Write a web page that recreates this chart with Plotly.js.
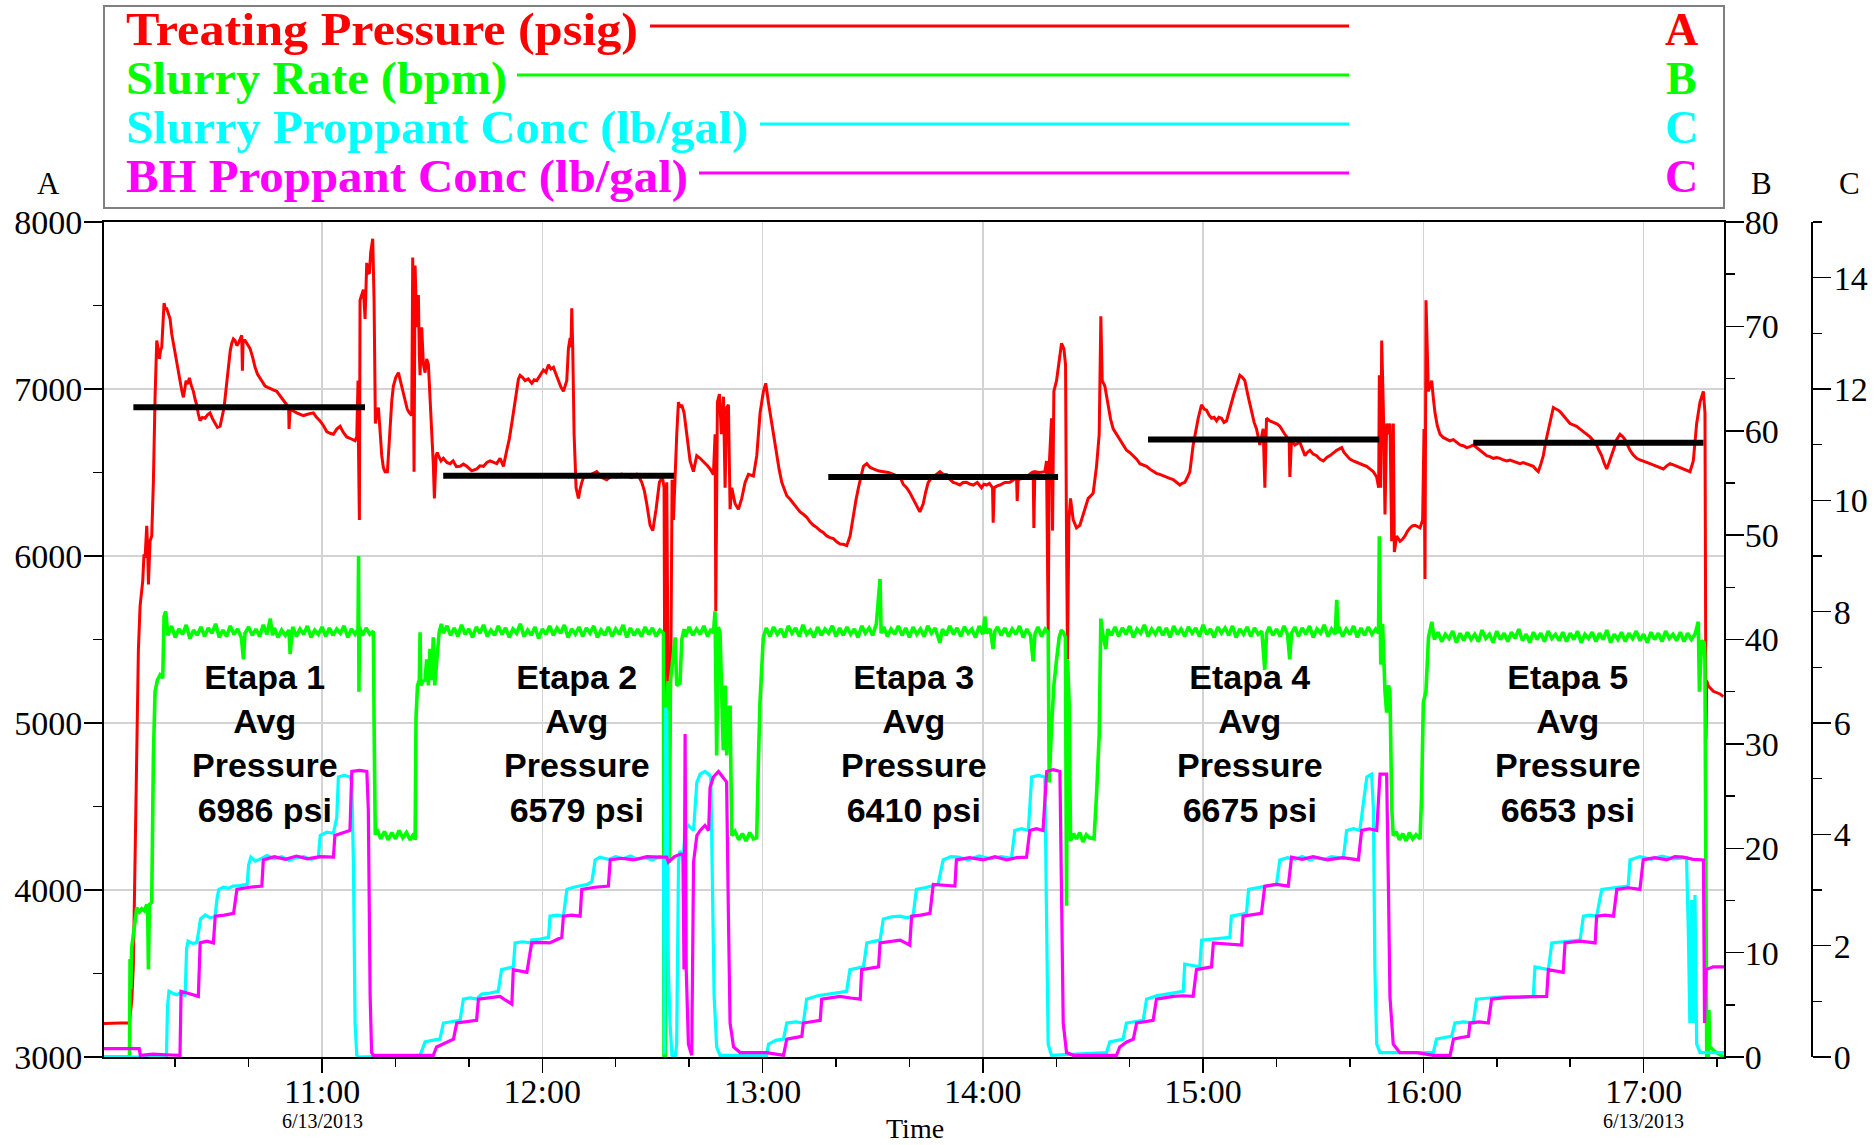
<!DOCTYPE html>
<html><head><meta charset="utf-8">
<script src="https://cdn.plot.ly/plotly-3.0.1.min.js"></script>
<style>html,body{margin:0;padding:0;background:#fff;}#chart{width:1875px;height:1145px;}</style>
</head><body><div id="chart"></div>
<script>
// ---------- DATA (time = minutes after 10:00 on 6/13/2013) ----------
const treatingPressure = [
[0.6,3200],[7.2,3205],[7.5,3195],[8.2,3350],[8.6,3550],[9.06,4160],[9.5,4800],[9.97,5440],[10.43,5700],[10.8,5790],[11.15,5850],[11.5,6010],[11.79,5990],[12.24,6180],[12.5,6050],[12.7,5830],[13.15,6090],[13.6,6120],[14.06,6450],[14.51,6950],[14.97,7290],[15.3,7250],[15.69,7180],[16.0,7230],[16.33,7250],[16.96,7515],[17.3,7480],[17.69,7480],[18.1,7450],[18.6,7420],[19.05,7330],[19.51,7270],[20.0,7200],[20.41,7160],[20.9,7090],[21.32,7050],[21.8,6990],[22.23,6950],[22.6,7010],[22.96,7050],[23.4,7030],[23.86,7066],[24.4,7020],[24.95,6986],[25.4,6940],[25.86,6905],[26.3,6850],[26.77,6810],[27.4,6830],[28.13,6825],[28.8,6845],[29.49,6857],[30.2,6820],[30.86,6793],[31.5,6770],[32.22,6777],[32.8,6830],[33.31,6889],[33.9,7010],[34.49,7146],[35.0,7230],[35.4,7274],[35.85,7300],[36.3,7290],[36.8,7260],[37.21,7274],[37.7,7300],[38.12,7322],[38.3,7110],[38.5,7290],[39.03,7290],[39.7,7270],[40.39,7242],[41.1,7190],[41.75,7130],[42.4,7090],[43.11,7066],[43.8,7040],[44.48,7018],[45.2,7010],[45.84,7002],[46.7,6995],[47.65,6986],[48.6,6960],[49.47,6937],[50.38,6905],[50.9,6880],[51.01,6761],[51.3,6880],[51.74,6873],[52.4,6865],[53.1,6857],[54.0,6850],[54.92,6841],[56.3,6850],[57.64,6857],[58.5,6830],[59.46,6809],[60.4,6780],[61.27,6745],[62.2,6735],[63.09,6729],[64.0,6760],[64.91,6777],[65.8,6740],[66.72,6713],[67.6,6705],[68.54,6697],[69.0,6690],[69.45,6713],[69.8,7050],[69.95,6600],[70.17,6216],[70.35,7531],[70.8,7560],[71.26,7595],[71.72,7419],[72.17,7755],[72.5,7700],[72.9,7691],[73.26,7819],[73.8,7900],[74.17,7531],[74.53,6793],[74.9,6850],[75.35,6889],[75.8,6750],[76.26,6601],[76.7,6530],[77.16,6505],[77.8,6505],[78.2,6650],[78.53,6793],[79.0,6930],[79.43,7018],[80.1,7070],[80.8,7098],[81.2,7060],[81.7,7018],[82.2,6970],[82.61,6921],[83.2,6880],[83.79,6857],[84.43,6841],[84.7,7787],[84.9,7000],[85.06,6505],[85.34,7739],[85.79,7370],[86.0,7450],[86.24,7563],[86.5,7200],[86.7,7082],[87.15,7370],[87.6,7150],[88.06,7098],[88.5,7180],[88.97,7146],[89.3,7000],[89.6,6889],[90.0,6700],[90.33,6537],[90.6,6345],[91.06,6601],[91.4,6620],[91.69,6601],[92.4,6570],[93.05,6585],[94.0,6560],[94.87,6553],[95.7,6570],[96.6,6535],[97.59,6537],[98.5,6550],[99.41,6537],[100.8,6510],[102.13,6521],[103.0,6540],[103.95,6537],[104.9,6560],[105.77,6569],[106.7,6560],[107.58,6553],
[108.5,6585],[109.41,6537],[110.32,6633],[111.0,6700],[111.68,6793],[112.4,6900],[113.04,7018],[113.5,7060],[113.95,7082],[114.6,7070],[115.31,7050],[116.2,7060],[117.13,7034],[117.8,7055],[118.49,7050],[119.4,7080],[120.3,7114],[121.0,7100],[121.67,7146],[122.3,7120],[123.03,7130],[123.7,7090],[124.39,7050],[125.1,7010],[125.75,6986],[126.2,7020],[126.66,7050],[127.11,7242],[127.57,7306],[127.8,7250],[128.02,7483],[128.29,7242],[128.66,6729],[129.2,6409],[129.84,6345],[130.3,6400],[130.75,6441],[131.4,6480],[132.11,6473],[133.5,6490],[134.83,6505],[136.2,6470],[137.56,6457],[138.9,6480],[140.28,6473],[141.6,6490],[143.0,6479],[144.4,6470],[145.73,6489],[146.4,6470],[147.09,6441],[147.8,6390],[148.45,6313],[149.36,6184],[150.09,6152],[150.99,6280],[151.9,6441],[152.72,6473],[153.17,6409],[153.36,5126],[153.54,5574],[153.9,6441],[154.35,4997],[154.63,4773],[154.99,5254],[155.35,6457],[155.72,6216],[156.17,6537],[156.62,6729],[157.08,6921],[157.5,6890],[157.99,6905],[158.62,6857],[159.35,6729],[160.26,6569],[161.16,6505],[162.07,6601],[162.98,6585],[163.7,6570],[164.34,6553],[165.0,6540],[165.7,6521],[166.61,6489],[167.07,6729],[167.25,5671],[167.52,6409],[167.7,6921],[168.25,6970],[168.79,6729],[169.34,6954],[169.79,6409],[170.24,6889],[170.7,6905],[171.15,6280],[171.61,6409],[172.51,6313],[173.42,6280],[174.33,6345],[175.24,6441],[176.15,6489],[177.51,6479],[178.42,6601],[179.32,6857],[180.23,6986],[180.87,7034],[181.59,6921],[182.5,6793],[183.86,6601],[184.5,6520],[185.23,6441],[186.0,6400],[186.59,6361],[187.5,6340],[188.4,6313],[189.3,6290],[190.22,6264],[191.1,6250],[192.04,6232],[192.9,6205],[193.85,6184],[194.8,6170],[195.67,6152],[196.6,6140],[197.48,6120],[198.4,6110],[199.3,6104],[200.2,6085],[201.12,6072],[202.0,6070],[202.93,6062],[203.84,6120],[204.75,6248],[205.4,6330],[206.11,6409],[206.8,6480],[207.47,6537],[208.38,6553],[209.3,6530],[210.2,6521],[211.5,6510],[212.92,6505],[214.3,6500],[215.64,6489],[216.5,6480],[217.46,6473],
[218.3,6430],[219.22,6409],[220.1,6380],[221.03,6345],[222.0,6300],[222.85,6264],[223.76,6313],[224.4,6380],[225.12,6441],[225.8,6460],[226.48,6473],[227.4,6490],[228.3,6505],[229.2,6490],[230.11,6489],[231.0,6460],[231.93,6441],[232.8,6435],[233.74,6425],[234.6,6440],[235.56,6441],[236.5,6430],[237.38,6425],[238.5,6440],[239.65,6409],[240.3,6430],[241.01,6425],[241.8,6435],[242.64,6409],[242.82,6200],[243.1,6409],[243.9,6420],[244.64,6425],[246.0,6440],[247.36,6441],[248.3,6455],[249.18,6473],[249.36,6329],[249.63,6457],[250.8,6465],[251.9,6473],[252.8,6490],[253.72,6505],[253.9,6168],[254.17,6505],[255.5,6500],[256.9,6505],[257.35,6569],[257.81,5542],[258.08,6537],[258.71,6825],[258.99,6152],[259.35,6986],[260.08,7050],[260.8,7178],[261.44,7274],[262.07,7242],[262.53,7146],[262.8,6088],[263.07,5382],[263.44,6216],[263.89,6345],[264.62,6216],[265.52,6168],[266.43,6184],[267.34,6248],[268.0,6300],[268.7,6345],[269.4,6360],[270.06,6377],[270.97,6537],[271.7,6729],[272.15,7435],[272.52,7050],[273.24,7018],[274.15,6889],[274.8,6820],[275.51,6761],[276.4,6730],[277.33,6697],[278.2,6660],[279.14,6633],[280.0,6620],[280.96,6601],[281.9,6580],[282.78,6553],[283.7,6545],[284.59,6537],[285.5,6520],[286.41,6505],[287.3,6495],[288.22,6489],[289.1,6480],[290.04,6473],[290.9,6465],[291.86,6457],[292.8,6440],[293.67,6425],[294.3,6435],[295.03,6441],[295.7,6470],[296.4,6505],[297.3,6665],[298.0,6750],[298.67,6825],[299.57,6905],[300.3,6880],[300.94,6873],[301.6,6845],[302.3,6825],[303.0,6830],[303.66,6809],[304.3,6830],[305.02,6825],[305.7,6800],[306.38,6809],[307.1,6870],[307.75,6921],[308.4,6970],[309.11,7018],[310.02,7082],[310.7,7070],[311.38,7050],[312.29,6954],[313.19,6857],[313.9,6800],[314.56,6761],[315.46,6665],[316.0,6720],[316.37,6761],[316.83,6409],[317.28,6825],[318.19,6809],[319.0,6800],[319.55,6793],[320.2,6790],[320.91,6777],[321.6,6750],[322.27,6729],[322.9,6710],[323.45,6697],[323.64,6473],[324.09,6697],[325.0,6665],[326.36,6681],
[327.76,6601],[328.4,6620],[329.12,6633],[330.0,6610],[330.94,6601],[331.8,6580],[332.76,6569],[333.7,6590],[334.57,6601],[335.5,6620],[336.39,6633],[337.0,6640],[337.75,6649],[338.4,6620],[339.11,6601],[340.0,6580],[340.93,6569],[341.8,6560],[342.74,6553],[343.6,6545],[344.56,6537],[345.5,6520],[346.38,6505],[347.28,6473],[347.83,6409],[348.01,7082],[348.37,6409],[348.65,7290],[349.1,6889],[349.55,6248],[350.01,6793],[350.46,6729],[350.92,6793],[351.37,6088],[351.82,6793],[352.1,6024],[352.73,6120],[353.64,6088],[354.3,6100],[355.0,6120],[355.7,6150],[356.36,6168],[357.0,6180],[357.73,6184],[358.4,6175],[359.09,6168],[359.81,6216],[360.18,6761],[360.45,5863],[360.72,7531],[361.36,6986],[362.27,7050],[362.7,6950],[363.17,6857],[363.8,6780],[364.54,6729],[365.4,6710],[366.35,6697],[367.2,6690],[368.17,6697],[369.0,6680],[369.98,6665],[370.9,6660],[371.8,6649],[372.7,6655],[373.62,6665],[374.5,6650],[375.43,6633],[376.3,6620],[377.25,6601],[378.1,6595],[379.06,6585],[380.0,6590],[380.88,6585],[381.8,6575],[382.7,6569],[383.6,6575],[384.51,6569],[385.4,6560],[386.33,6553],[387.2,6560],[388.14,6553],[389.0,6545],[389.96,6537],[390.6,6520],[391.32,6505],[392.0,6550],[392.68,6601],[393.4,6690],[394.05,6761],[394.7,6830],[395.41,6889],[396.1,6880],[396.77,6873],[397.4,6860],[398.13,6841],[399.0,6820],[399.95,6793],[400.8,6785],[401.76,6777],[402.7,6760],[403.58,6745],[404.5,6730],[405.4,6713],[406.3,6690],[407.21,6665],[407.9,6630],[408.57,6601],[409.2,6560],[409.94,6521],[410.6,6560],[411.3,6601],[412.0,6650],[412.66,6697],[413.57,6729],[414.3,6715],[414.93,6697],[415.6,6665],[416.29,6633],[417.2,6605],[418.11,6585],[419.0,6575],[419.92,6569],[420.8,6560],[421.74,6553],[422.6,6545],[423.56,6537],[424.5,6530],[425.37,6521],[426.3,6540],[427.19,6553],[428.1,6545],[429.0,6537],[429.9,6530],[430.82,6521],[431.7,6515],[432.64,6505],[433.54,6569],[434.45,6793],[435.36,6921],[436.27,6986],[436.72,6857],[436.99,4901],[437.18,5254],[437.63,5222],[438.99,5190],[440.81,5174],[441.72,5158]
];

const slurryRate = [
[0.6,0],[7.55,0],[7.7,9.4],[7.9,6.5],[8.16,10.5],[8.61,12.0],[9.06,13.5],[9.52,14.3],[10.2,13.9],[10.9,14.2],[11.6,14.0],[12.24,14.6],[12.5,14.0],[12.7,8.4],[12.97,14.6],[13.6,14.8],[14.06,28.9],[14.51,35.0],[15.15,36.1],[15.87,36.6],[16.6,36.3],[16.96,42.2],[17.42,42.7],[17.87,41.0],
[18,40.4],[19,41.3],[20,40.2],[21,41.0],[22,40.5],[23,41.4],[24,40.1],[25,40.9],[26,40.4],[27,41.2],[28,40.3],[29,41.1],[30,40.6],[31,41.5],[32,40.2],[33,40.9],[34,40.3],[35,41.3],[36,40.5],[37,41.0],[38,40.2],[38.6,38.1],[39,40.6],[40,41.2],[41,40.4],[42,41.0],[43,40.3],[44,41.4],[45,40.5],[45.9,42.0],[46.5,40.4],[47,41.1],[48,40.2],[49,40.9],[50,40.4],[51,40.9],[51.3,38.6],[51.8,40.5],[52,41.2],[53,40.3],[54,41.0],[55,40.5],[56,41.3],[57,40.2],[58,40.9],[59,40.5],[60,41.2],[61,40.3],[62,41.1],[63,40.4],[64,41.0],[65,40.6],[66,41.3],[67,40.2],[68,41.0],[69,40.5],[69.8,41.0],[69.95,48.0],[70.05,35.0],[70.2,41.2],[71,40.4],[72,41.1],[73,40.5],[73.98,40.8],[74.2,31.0],[74.5,21.3],[75,21.8],[76,20.9],[77,21.6],[78,20.8],[79,21.5],[80,20.9],[81,21.7],[82,21.0],[83,21.5],[84,20.8],[85,21.4],[85.35,20.8],[85.6,32.5],[86.0,35.6],[86.5,36.1],[86.7,40.7],[86.9,35.6],[87.5,36.0],[88.06,36.1],[88.5,38.1],[88.97,35.6],[89.4,39.1],[89.9,36.1],[90.3,40.2],[90.7,35.6],[91.4,39.1],[91.9,40.7],[92.5,41.5],
[93,40.6],[94,41.3],[95,40.4],[96,41.1],[97,40.3],[98,41.4],[99,40.5],[100,41.0],[101,40.2],[102,41.2],[103,40.6],[104,41.4],[105,40.3],[106,40.9],[107,40.4],[108,41.3],[109,40.5],[110,41.1],[111,40.2],[112,41.0],[113,40.6],[114,41.5],[115,40.3],[116,40.9],[117,40.4],[118,41.2],[119,40.1],[120,41.0],[121,40.5],[122,41.3],[123,40.4],[124,41.1],[125,40.6],[126,41.4],[127,40.2],[128,41.0],[129,40.5],[130,41.2],[131,40.3],[132,41.1],[133,40.6],[134,41.3],[135,40.2],[136,40.9],[137,40.4],[138,41.2],[139,40.3],[140,41.0],[141,40.5],[142,41.4],[143,40.2],[144,41.1],[145,40.4],[146,41.0],[147,40.3],[148,41.2],[149,40.5],[150,41.1],[151,40.3],[152,40.9],[153.0,40.6],[153.15,0],[153.5,0],[153.9,34.0],[154.3,36.0],[154.6,18.6],[154.9,36.1],[155.4,37.6],[156.2,40.2],[156.6,35.6],[157.5,35.8],[158.0,40.0],[158.6,41.0],[159,40.3],[160,41.2],[161,40.4],[162,41.0],[163,40.5],[164,41.3],[165,40.3],[166,41.0],[166.6,40.6],[167.05,42.7],[167.5,28.9],[167.95,41.2],[168.4,40.7],[168.9,34.0],[169.3,29.4],[169.8,35.6],[170.24,28.9],[170.7,33.5],[171.15,33.5],[171.6,21.2],[172.5,21.6],[173.5,20.8],[174.5,21.4],[175.5,20.7],[176.5,21.5],[177.5,20.9],[178.4,21.0],[178.9,28.9],[179.3,34.0],[180.2,40.2],
[181,41.1],[182,40.3],[183,41.2],[184,40.5],[185,41.0],[186,40.2],[187,41.3],[188,40.6],[189,41.1],[190,40.3],[191,41.4],[192,40.5],[193,40.9],[194,40.2],[195,41.2],[196,40.4],[197,41.0],[198,40.6],[199,41.3],[200,40.3],[201,41.1],[202,40.4],[203,41.2],[204,40.5],[205,41.0],[206,40.2],[207,41.3],[208,40.6],[209,41.1],[210,40.4],[211,41.5],[212.0,45.8],[212.3,40.6],[213,41.2],[214,40.3],[215,41.0],[216,40.5],[217,41.3],[218,40.4],[219,41.1],[220,40.2],[221,41.2],[222,40.5],[223,41.0],[224,40.3],[225,41.3],[226,40.6],[227,41.1],[228,40.2],[228.3,39.7],[229,41.0],[230,40.4],[231,41.3],[232,40.5],[233,41.1],[234,40.3],[235,41.2],[236,40.6],[237,41.0],[238,40.2],[239,41.3],[240,40.5],[240.6,42.2],[241,40.6],[242,41.0],[242.8,39.1],[243.3,40.8],[244,41.2],[245,40.4],[246,41.1],[247,40.3],[248,41.0],[249,40.5],[250,41.3],[251,40.2],[252,41.0],[253,40.4],[253.7,37.9],[254.2,40.5],[255,41.2],[256,40.3],[257,41.0],[257.8,40.7],[258.08,26.3],[258.7,31.5],[259.35,35.6],[260.1,38.1],[260.8,40.2],[261.4,40.9],[261.9,40.7],[262.5,40.2],[262.8,14.5],[263.07,38.1],[263.5,34.0],[263.9,20.7],[264.7,21.4],[265.5,20.9],[266.4,21.5],[267.3,20.6],[268.2,21.3],[269.1,21.0],[270.3,20.9],[271.0,25.3],[271.7,30.9],[272.15,42.0],[272.6,40.7],[273.5,39.1],
[274,41.0],[275,40.4],[276,41.2],[277,40.3],[278,41.1],[279,40.5],[280,41.3],[281,40.2],[282,41.0],[283,40.6],[284,41.4],[285,40.3],[286,41.0],[287,40.5],[288,41.2],[289,40.4],[290,41.1],[291,40.2],[292,41.3],[293,40.5],[294,41.0],[295,40.3],[296,41.2],[297,40.6],[298,41.1],[299,40.3],[300,41.4],[301,40.5],[302,41.0],[303,40.2],[304,41.2],[305,40.6],[306,41.1],[307,40.4],[308,41.3],[309,40.2],[310,41.0],[311,40.5],[312,41.2],[313,40.3],[314,41.1],[315,40.5],[316,40.8],[316.8,37.1],[317.3,40.6],[318,41.2],[319,40.4],[320,41.0],[321,40.3],[322,41.3],[323,40.5],[323.6,38.1],[324.1,40.6],[325,41.2],[326,40.3],[327,41.1],[328,40.5],[329,41.3],[330,40.2],[331,41.0],[332,40.6],[333,41.4],[334,40.3],[335,41.0],[336,40.5],[336.4,43.8],[336.8,40.6],[337,41.2],[338,40.3],[339,41.0],[340,40.5],[341,41.3],[342,40.2],[343,41.1],[344,40.4],[345,41.2],[346,40.5],[347,41.0],[347.8,40.6],[348.0,49.9],[348.4,37.6],[348.9,41.5],[349.55,35.0],[350.0,33.0],[350.5,35.6],[350.9,35.0],[351.4,23.8],[351.8,21.2],[352.6,21.6],[353.5,20.8],[354.4,21.4],[355.3,20.7],[356.2,21.5],[357.1,20.9],[358.0,21.3],[359.1,20.9],[359.5,24.8],[360.0,34.0],[360.7,35.0],[361.4,40.2],[362.3,41.7],
[363,40.0],[364,40.7],[365,39.8],[366,40.5],[367,40.1],[368,40.8],[369,39.7],[370,40.6],[371,39.9],[372,40.7],[373,40.0],[374,40.5],[375,39.8],[376,40.9],[377,40.1],[378,40.5],[379,39.7],[380,40.8],[381,40.0],[382,40.6],[383,39.8],[384,40.7],[385,40.1],[386,41.0],[387,39.9],[388,40.5],[389,39.7],[390,40.7],[391,40.0],[392,40.6],[393,39.8],[394,40.8],[395,40.1],[396,40.5],[397,39.9],[398,40.7],[399,39.8],[400,40.6],[401,40.0],[402,40.8],[403,39.7],[404,40.5],[405,40.1],[406,40.7],[407,39.8],[408,40.6],[409,40.0],[410,40.9],[411,39.7],[412,40.5],[413,40.0],[414,40.7],[415,39.8],[416,40.6],[417,40.1],[418,40.8],[419,39.9],[420,40.5],[421,39.7],[422,40.7],[423,40.0],[424,40.6],[425,39.8],[426,40.8],[427,40.1],[428,40.5],[429,39.9],[430,40.7],[431,39.8],[432,40.6],[433,40.0],[434,40.5],[434.9,41.7],[435.2,35.0],[435.8,39.9],[436.5,39.7],[436.7,38.1],[437.0,18.6],[437.2,0],[437.6,0],[437.8,4.5],[438.0,1.0],[439.5,0.5],[441.9,0]
];

const slurryProppantConc = [
[0.6,0],[17.6,0],[17.9,0.9],[18.3,1.18],[19.5,1.14],[20.5,1.12],[21.6,1.16],[22.7,1.09],[23.1,1.95],[23.5,2.08],[24.7,2.04],[25.86,2.05],[26.5,2.3],[26.9,2.48],[28.2,2.55],[29.5,2.5],[30.86,2.53],[31.4,2.85],[31.9,3.01],[33.2,3.05],[34.5,3.03],[35.85,3.07],[37.5,3.08],[39.6,3.1],[40.0,3.45],[40.6,3.59],[41.8,3.52],[43.0,3.55],[45,3.62],[47.0,3.56],[49,3.6],[51.0,3.53],[53,3.58],[55.0,3.6],[57,3.55],[59.0,3.59],[59.5,3.98],[61.3,4.04],[63.09,4.02],[64.0,4.3],[64.45,5.03],[66,5.06],[67.63,5.03],[68.08,4.94],[68.54,3.5],[68.99,0.61],[69.45,0.03],[69.9,0],[86.7,0.03],[88.06,0.27],[90,0.3],[92.1,0.32],[93.05,0.61],[95.5,0.63],[97.6,0.66],[98.5,1.04],[100.3,1.06],[102.1,1.04],[103.5,1.13],[105.8,1.15],[108.0,1.18],[108.9,1.57],[110.5,1.6],[112.1,1.62],[112.6,2.05],[114.6,2.07],[116.7,2.05],[117.1,2.10],[119.4,2.12],[121.7,2.15],[122.1,2.53],[124,2.55],[125.75,2.53],[126.7,3.01],[128.5,3.05],[130.3,3.07],[132.3,3.1],[133.5,3.15],[134.4,3.54],[135.7,3.59],[138,3.55],[140,3.6],[142,3.56],[144,3.61],[146,3.55],[148,3.58],[150,3.54],[152,3.6],[153.0,3.59],[153.3,0.05],[153.6,6.28],[153.9,6.2],[154.35,1.57],[154.8,0.61],[155.3,0.03],[156.2,0],[156.6,0.23],[157.1,3.5],[157.5,3.7],[158.4,3.59],[158.9,4.07],[159.8,4.16],[161.2,4.07],[162.1,4.94],[163.0,5.08],[164.3,5.13],[165.3,5.08],[165.9,5.03],[166.3,3.5],[166.8,1.09],[167.5,0.18],[168.4,0.03],[181.1,0.03],[181.6,0.23],[183.6,0.3],[185.7,0.32],[186.6,0.61],[189,0.63],[191.1,0.61],[192.0,1.04],[195,1.1],[197.9,1.13],[200.4,1.16],[202.9,1.18],[203.8,1.57],[205.7,1.6],[207.5,1.62],[208.4,2.05],[210.2,2.08],[212.0,2.10],[212.9,2.48],[215.2,2.52],[217.5,2.53],[219.3,2.5],[221.0,2.53],[221.9,3.01],[224.2,3.04],[226.5,3.07],[227.8,3.1],[229.2,3.54],[231.3,3.6],[233.3,3.59],[236,3.54],[239,3.61],[242,3.56],[245,3.6],[247.8,3.57],[248.7,4.07],[250.5,4.1],[252.4,4.07],[253.3,5.03],[255.1,5.06],[256.9,5.03],[257.35,2.53],[257.8,0.23],[258.7,0.03],[273.7,0.08],[274.6,0.27],[276.4,0.3],[278.2,0.32],[279.1,0.61],[281.4,0.64],[283.7,0.66],[284.6,1.04],[287.3,1.1],[290.0,1.13],[292.3,1.15],[294.6,1.18],[295.0,1.67],[297,1.64],[299.1,1.62],[299.6,2.10],[303.4,2.12],[307.3,2.15],[307.7,2.53],[309.8,2.55],[311.8,2.58],[312.4,3.01],[316,3.05],[320.0,3.10],[320.9,3.54],[323,3.58],[325,3.55],[327,3.6],[329.1,3.54],[331,3.58],[333,3.55],[335,3.6],[338.2,3.57],[339.1,4.07],[341,4.1],[342.7,4.07],[344.6,5.03],[345.9,5.08],[346.4,4.45],[346.8,1.57],[347.3,0.23],[348.2,0.08],[362.7,0.08],[363.6,0.32],[365.6,0.35],[367.7,0.37],[368.6,0.61],[371,0.63],[373.6,0.61],[374.5,1.04],[378,1.06],[382,1.08],[386,1.07],[389.96,1.09],[390.4,1.62],[392.2,1.6],[394.05,1.57],[395.0,2.05],[399,2.08],[402.7,2.10],[403.6,2.53],[405.4,2.55],[407.2,2.53],[408.6,3.01],[412,3.04],[415.8,3.07],[416.3,3.54],[419,3.6],[422,3.55],[425,3.61],[428,3.56],[431.7,3.58],[432.2,2.2],[432.6,0.61],[433.1,2.82],[433.5,0.61],[434.0,2.91],[434.45,0.23],[435.4,0.08],[441.9,0.08]
];

const bhProppantConc = [
[0.6,0.15],[10.2,0.15],[10.5,0.03],[14,0.05],[17.2,0.04],[21.3,0.03],[21.6,1.18],[24,1.13],[26.3,1.09],[26.8,2.05],[28.6,2.08],[30.4,2.05],[30.9,2.53],[33.4,2.55],[35.9,2.58],[36.8,3.01],[40.2,3.05],[43.6,3.07],[44.0,3.54],[47,3.6],[50,3.55],[53,3.61],[56,3.56],[59.5,3.6],[63.1,3.59],[63.5,3.98],[65.5,4.02],[67.6,4.07],[68.1,5.13],[70.2,5.15],[72.2,5.13],[72.6,4.45],[73.1,1.09],[73.5,0.08],[74.0,0.03],[90.3,0.03],[91.2,0.18],[93.5,0.25],[95.8,0.32],[96.7,0.61],[99.4,0.64],[102.1,0.66],[102.6,1.04],[105.5,1.07],[108.5,1.09],[110,1.02],[111.7,0.95],[112.1,1.57],[114,1.55],[115.8,1.52],[117.1,2.05],[119.5,2.06],[122.0,2.05],[125.3,2.15],[125.75,2.53],[128,2.55],[130.3,2.53],[130.75,3.01],[134.4,3.05],[138.0,3.07],[138.5,3.54],[141.6,3.57],[144.8,3.54],[148.5,3.6],[152.1,3.59],[153.9,3.59],[154.35,3.5],[156,3.6],[157.5,3.64],[158.3,3.64],[158.6,1.57],[158.9,5.80],[159.2,1.57],[159.8,0.23],[160.7,0.03],[161.2,3.5],[162.1,3.98],[163.0,4.07],[164.3,4.16],[165.3,4.07],[165.7,4.84],[166.6,5.03],[168.0,5.13],[169.3,5.03],[170.2,4.94],[170.7,2.53],[171.15,0.61],[172.1,0.18],[173.9,0.08],[181.1,0.08],[185.7,0.03],[186.6,0.32],[188.6,0.35],[190.7,0.37],[191.1,0.61],[193.4,0.63],[195.7,0.66],[196.1,1.04],[198.6,1.07],[201.1,1.09],[204,1.06],[206.6,1.04],[207.0,1.57],[209.3,1.6],[211.6,1.62],[212.0,2.05],[214.8,2.08],[217.5,2.10],[220.1,2.01],[220.6,2.53],[223.1,2.55],[225.6,2.58],[226.5,3.10],[229.5,3.08],[232.4,3.07],[232.8,3.54],[236.4,3.58],[240.1,3.54],[243.3,3.6],[246.5,3.54],[249.2,3.58],[251.9,3.59],[252.8,4.07],[254.6,4.1],[256.4,4.07],[257.4,5.13],[259.2,5.16],[261.0,5.13],[261.4,2.53],[261.9,0.61],[262.8,0.08],[264.6,0.03],[276.4,0.03],[277.3,0.18],[279.2,0.27],[281.0,0.32],[281.9,0.61],[284.2,0.64],[286.4,0.66],[287.3,1.04],[289.6,1.07],[291.9,1.09],[294.6,1.1],[297.3,1.09],[298.2,1.57],[300.3,1.6],[302.3,1.62],[302.8,2.05],[306.6,2.03],[310.5,2.01],[310.9,2.53],[313.4,2.55],[315.9,2.58],[316.8,3.07],[320,3.1],[323.2,3.07],[324.1,3.59],[327,3.55],[330,3.6],[334,3.54],[338,3.58],[342.3,3.54],[343.2,4.07],[345.3,4.1],[347.3,4.07],[348.2,5.08],[350.0,5.08],[350.5,3.01],[350.9,1.09],[351.8,0.23],[353.6,0.08],[358.2,0.08],[362.7,0.03],[367.3,0.03],[368.2,0.32],[370.3,0.35],[372.3,0.37],[372.7,0.61],[375.2,0.63],[377.7,0.61],[378.6,1.04],[383,1.07],[388,1.08],[393.6,1.09],[394.05,1.57],[396,1.55],[398.1,1.52],[398.6,2.05],[402.7,2.08],[406.8,2.05],[407.2,2.53],[409.5,2.55],[411.8,2.53],[412.7,3.01],[415.9,3.04],[419.0,3.01],[419.9,3.54],[423,3.58],[426.3,3.54],[428.5,3.6],[430.8,3.59],[433.5,3.55],[436.3,3.54],[436.6,0.61],[437.0,1.57],[438.99,1.62],[441.9,1.62]
];

// stage average-pressure reference lines (start min, end min, level psi)
const stageNames   = ['Etapa 1','Etapa 2','Etapa 3','Etapa 4','Etapa 5'];
const stageAvgPsi  = [6986, 6579, 6410, 6675, 6653];
const avgLineStart = [8.6, 93.0, 197.9, 285.0, 373.6];
const avgLineEnd   = [71.7, 155.9, 260.5, 348.0, 436.3];
const avgLineLevel = [6890, 6480, 6473, 6697, 6678];

const hourTicks  = [60,120,180,240,300,360,420];
const hourLabels = ['11:00','12:00','13:00','14:00','15:00','16:00','17:00'];
const dateLabel  = '6/13/2013';
const dateTicks  = [60, 420];

const seriesNames  = ['Treating Pressure (psig)','Slurry Rate (bpm)','Slurry Proppant Conc (lb/gal)','BH Proppant Conc (lb/gal)'];
const seriesAxis   = ['A','B','C','C'];

// ---------- LAYOUT HELPERS (pixel -> paper) ----------
const ML = 104, MR = 40, MT = 222, MB = 88, W = 1875, H = 1145;
const PW = W - ML - MR, PH = H - MT - MB;
const px = x => (x - ML) / PW;
const py = y => (H - MB - y) / PH;

const colors = ['#ff0000','#00ff00','#00ffff','#ff00ff'];
const serif = 'Liberation Serif, Times New Roman, serif';
const sans = 'Liberation Sans, Arial, sans-serif';

const xs = a => a.map(p => p[0]);
const ys = a => a.map(p => p[1]);

const traces = [
  {x: xs(treatingPressure), y: ys(treatingPressure), yaxis: 'y', type: 'scatter', mode: 'lines',
   line: {color: colors[0], width: 3}, name: seriesNames[0]},
];
for (let i = 0; i < avgLineStart.length; i++) {
  traces.push({x: [avgLineStart[i], avgLineEnd[i]], y: [avgLineLevel[i], avgLineLevel[i]], yaxis: 'y',
    type: 'scatter', mode: 'lines', line: {color: '#000', width: 6}, showlegend: false});
}
traces.push({x: xs(slurryRate), y: ys(slurryRate), yaxis: 'y2', type: 'scatter', mode: 'lines',
  line: {color: colors[1], width: 3.6}, name: seriesNames[1]});
traces.push({x: xs(slurryProppantConc), y: ys(slurryProppantConc), yaxis: 'y3', type: 'scatter', mode: 'lines',
  line: {color: colors[2], width: 3.2}, name: seriesNames[2]});
traces.push({x: xs(bhProppantConc), y: ys(bhProppantConc), yaxis: 'y3', type: 'scatter', mode: 'lines',
  line: {color: colors[3], width: 3.2}, name: seriesNames[3]});

const annotations = [];
const shapes = [];
// legend box
shapes.push({type: 'rect', xref: 'paper', yref: 'paper', x0: px(104), x1: px(1724), y0: py(208), y1: py(6),
  line: {color: '#808080', width: 2}, fillcolor: 'rgba(0,0,0,0)'});
const legRowY = [29.5, 78.5, 127, 176];
const legLineY = [26, 75, 124, 173];
const legLineX0 = [650, 517, 760, 699];
const legTextLeft = 126;
const legTextW = [512, 381, 622, 562];   // rendered widths of the legend labels (px)
for (let i = 0; i < 4; i++) {
  annotations.push({xref: 'paper', yref: 'paper', x: px(123), y: py(legRowY[i]), xanchor: 'left', yanchor: 'middle',
    text: '<b>' + seriesNames[i] + '</b>', showarrow: false, font: {family: serif, size: 46, color: colors[i]}});
  annotations.push({xref: 'paper', yref: 'paper', x: px(1681), y: py(legRowY[i]), xanchor: 'center', yanchor: 'middle',
    text: '<b>' + seriesAxis[i] + '</b>', showarrow: false, font: {family: serif, size: 46, color: colors[i]}});
  shapes.push({type: 'line', xref: 'paper', yref: 'paper', x0: px(legLineX0[i]), x1: px(1349),
    y0: py(legLineY[i]), y1: py(legLineY[i]), line: {color: colors[i], width: 3}});
}
// axis name letters
[['A', 48], ['B', 1761], ['C', 1850]].forEach(([t, x]) => annotations.push({xref: 'paper', yref: 'paper',
  x: px(x), y: py(183), xanchor: 'center', yanchor: 'middle', text: t, showarrow: false,
  font: {family: serif, size: 31, color: '#000'}}));
// date labels & axis title
dateTicks.forEach(t => annotations.push({xref: 'x', yref: 'paper', x: t, y: py(1121), xanchor: 'center', yanchor: 'middle',
  text: dateLabel, showarrow: false, font: {family: serif, size: 20, color: '#000'}}));
annotations.push({xref: 'paper', yref: 'paper', x: px(915), y: py(1128), xanchor: 'center', yanchor: 'middle',
  text: 'Time', showarrow: false, font: {family: serif, size: 28, color: '#000'}});
// stage labels
const stageLabelAt = [44.5, 129.5, 221.3, 312.8, 399.4];
for (let i = 0; i < stageNames.length; i++) {
  annotations.push({xref: 'x', yref: 'y', x: stageLabelAt[i], y: 4880, xanchor: 'center', yanchor: 'middle',
    text: '<b>' + stageNames[i] + '<br>Avg<br>Pressure<br>' + stageAvgPsi[i] + ' psi</b>', showarrow: false,
    align: 'center', font: {family: sans, size: 34, color: '#000'}});
}

const tickFont = {family: serif, size: 34, color: '#000'};
const layout = {
  width: W, height: H,
  margin: {l: ML, r: MR, t: MT, b: MB, pad: 0},
  paper_bgcolor: '#fff', plot_bgcolor: '#fff',
  showlegend: false,
  xaxis: {domain: [0, px(1724)], range: [0.6, 441.9], tickmode: 'array', tickvals: hourTicks, ticktext: hourLabels,
    ticks: 'outside', ticklen: 14, tickwidth: 1.5, tickcolor: '#000', tickfont: tickFont, ticklabelstandoff: -11,
    showline: true, linecolor: '#000', linewidth: 2, mirror: true, showgrid: true, gridcolor: '#d3d3d3', gridwidth: 1.5,
    zeroline: false,
    minor: {tickmode: 'linear', tick0: 0, dtick: 20, ticks: 'outside', ticklen: 8, tickwidth: 1.5, tickcolor: '#000', showgrid: false}},
  yaxis: {range: [3000, 8000], tickmode: 'array', tickvals: [3000,4000,5000,6000,7000,8000],
    ticks: 'outside', ticklen: 18, tickwidth: 1.5, tickcolor: '#000', tickfont: tickFont, ticklabelstandoff: -5,
    showline: true, linecolor: '#000', linewidth: 2, showgrid: true, gridcolor: '#d3d3d3', gridwidth: 1.5, zeroline: false,
    minor: {tickmode: 'linear', tick0: 3000, dtick: 500, ticks: 'outside', ticklen: 9, tickwidth: 1.5, tickcolor: '#000', showgrid: false}},
  yaxis2: {overlaying: 'y', side: 'right', anchor: 'x', range: [0, 80], tickmode: 'array', tickvals: [0,10,20,30,40,50,60,70,80],
    ticks: 'outside', ticklen: 18, tickwidth: 1.5, tickcolor: '#000', tickfont: tickFont, ticklabelstandoff: -6,
    showline: true, linecolor: '#000', linewidth: 2, showgrid: false, zeroline: false,
    minor: {tickmode: 'linear', tick0: 0, dtick: 5, ticks: 'outside', ticklen: 9, tickwidth: 1.5, tickcolor: '#000', showgrid: false}},
  yaxis3: {overlaying: 'y', side: 'right', anchor: 'free', position: px(1812), range: [0, 15], tickmode: 'array',
    tickvals: [0,2,4,6,8,10,12,14],
    ticks: 'outside', ticklen: 18, tickwidth: 1.5, tickcolor: '#000', tickfont: tickFont, ticklabelstandoff: -4,
    showline: true, linecolor: '#000', linewidth: 2, showgrid: false, zeroline: false,
    minor: {tickmode: 'linear', tick0: 0, dtick: 1, ticks: 'outside', ticklen: 9, tickwidth: 1.5, tickcolor: '#000', showgrid: false}},
  annotations: annotations,
  shapes: shapes
};
Plotly.newPlot('chart', traces, layout, {staticPlot: true, displayModeBar: false}).then(gd => {
  // the original legend lettering is set wider than the plain serif face: stretch each label to its
  // measured width, keeping its left edge fixed
  gd.querySelectorAll('.annotation-text').forEach(t => {
    const i = seriesNames.indexOf(t.textContent);
    if (i >= 0) {
      const bb = t.getBBox();
      const ctm = t.getScreenCTM();
      const svgLeft = gd.querySelector('.main-svg').getBoundingClientRect().left;
      // left edge in local coords so that the text starts at legTextLeft page px
      const localLeft = bb.x + (legTextLeft - (ctm.e - svgLeft + bb.x * ctm.a)) / ctm.a;
      t.setAttribute('text-anchor', 'start');
      t.setAttribute('x', localLeft);
      t.setAttribute('textLength', legTextW[i]);
      t.setAttribute('lengthAdjust', 'spacingAndGlyphs');
    }
  });
});
</script>
</body></html>
